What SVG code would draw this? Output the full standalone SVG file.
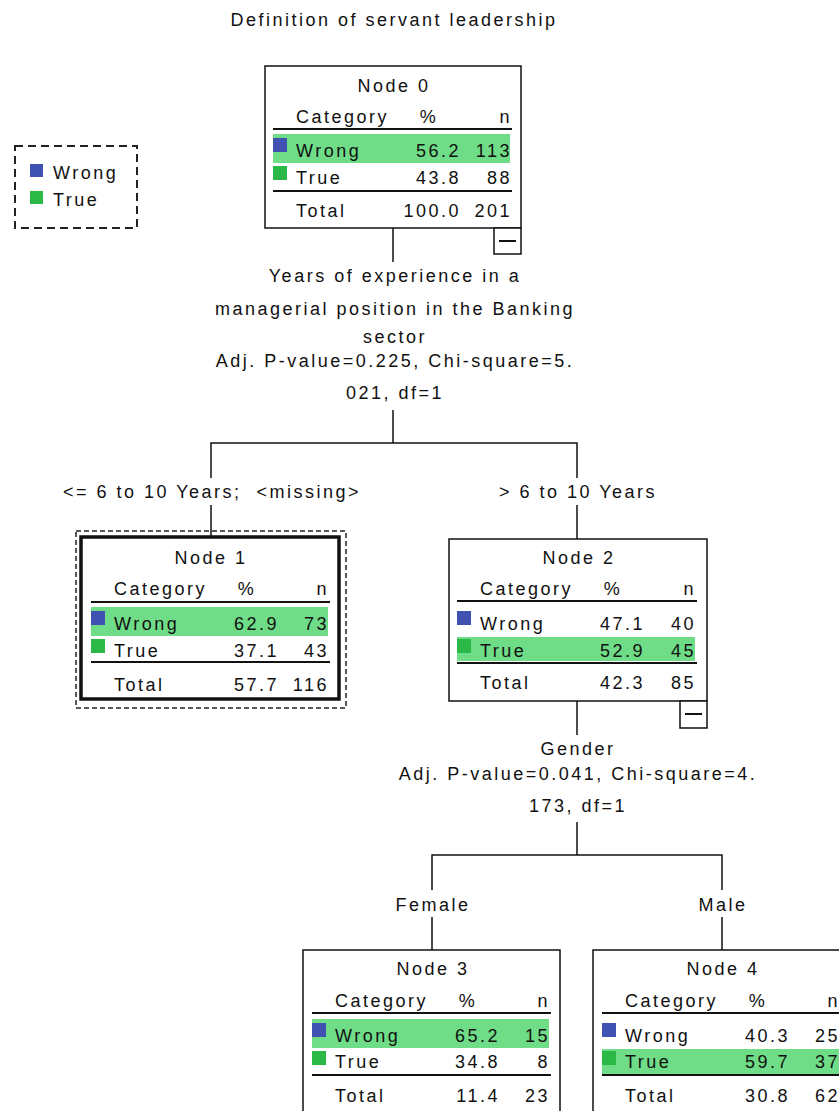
<svg xmlns="http://www.w3.org/2000/svg" width="839" height="1111" viewBox="0 0 839 1111">
<style>
text{font-family:"Liberation Sans",Arial,sans-serif;font-size:18px;letter-spacing:2.5px;fill:#111}
.m{text-anchor:middle}
.e{text-anchor:end}
.box{fill:#fff;stroke:#111;stroke-width:1.5}
.rule{stroke:#111;stroke-width:2}
.hl{fill:#6fdc87}
.bl{fill:#3f52b1}
.gr{fill:#2cb847}
.conn{fill:none;stroke:#111;stroke-width:1.5}
.dash{fill:none;stroke:#222;stroke-width:2;stroke-dasharray:8 5}
.dash2{fill:none;stroke:#222;stroke-width:1.5;stroke-dasharray:5 3}
</style>
<text id="title" class="m" x="394" y="26">Definition of servant leadership</text>
<g id="legend">
<rect class="dash" x="15" y="146" width="122" height="82"/>
<rect class="bl" x="30" y="164" width="13" height="13"/>
<text x="53" y="179">Wrong</text>
<rect class="gr" x="30" y="191" width="13" height="13"/>
<text x="53" y="206">True</text>
</g>
<g id="connectors">
<path class="conn" d="M393,228V262M393,410V443M211,478V443H577V478M211,505V537M577,505V539M577,701V735M577,822V855M432,890V855H722V890M432,917V950M722,917V950"/>
<text class="m" x="395" y="282">Years of experience in a</text>
<text class="m" x="395" y="315">managerial position in the Banking</text>
<text class="m" x="395" y="343">sector</text>
<text class="m" x="395" y="367">Adj. P-value=0.225, Chi-square=5.</text>
<text class="m" x="395" y="399">021, df=1</text>
<text class="m" x="212" y="498">&lt;= 6 to 10 Years;&#160; &lt;missing&gt;</text>
<text class="m" x="578" y="498">&gt; 6 to 10 Years</text>
<text class="m" x="578" y="755">Gender</text>
<text class="m" x="578" y="780">Adj. P-value=0.041, Chi-square=4.</text>
<text class="m" x="578" y="812">173, df=1</text>
<text class="m" x="433" y="911">Female</text>
<text class="m" x="723" y="911">Male</text>
</g>
<g id="node0" transform="translate(265,66)">
<rect class="box" x="0" y="0" width="256" height="162"/>
<text class="m" x="129" y="26">Node 0</text>
<text x="31" y="57">Category</text><text class="m" x="164" y="57">%</text><text class="e" x="247" y="57">n</text>
<line class="rule" x1="8" y1="63" x2="247" y2="63"/>
<rect class="hl" x="8" y="68" width="237" height="29"/>
<rect class="bl" x="8" y="72" width="14" height="14"/>
<text x="31" y="91">Wrong</text><text class="e" x="196" y="91">56.2</text><text class="e" x="247" y="91">113</text>
<rect class="gr" x="8" y="100" width="14" height="14"/>
<text x="31" y="118">True</text><text class="e" x="196" y="118">43.8</text><text class="e" x="247" y="118">88</text>
<line class="rule" x1="8" y1="125" x2="247" y2="125"/>
<text x="31" y="151">Total</text><text class="e" x="196" y="151">100.0</text><text class="e" x="247" y="151">201</text>
<rect class="box" x="229" y="162" width="27" height="26"/>
<line class="rule" x1="234" y1="175" x2="251" y2="175"/>
</g>
<g id="node1" transform="translate(81,538)">
<rect class="dash2" x="-5" y="-7" width="270" height="177"/>
<rect x="0" y="-1" width="258" height="162" fill="#fff" stroke="#111" stroke-width="3.5"/>
<text class="m" x="130" y="26">Node 1</text>
<text x="33" y="57">Category</text><text class="m" x="166" y="57">%</text><text class="e" x="248" y="57">n</text>
<line class="rule" x1="10" y1="64" x2="249" y2="64"/>
<rect class="hl" x="10" y="69" width="237" height="29"/>
<rect class="bl" x="10" y="73" width="14" height="14"/>
<text x="33" y="92">Wrong</text><text class="e" x="198" y="92">62.9</text><text class="e" x="248" y="92">73</text>
<rect class="gr" x="10" y="101" width="14" height="14"/>
<text x="33" y="119">True</text><text class="e" x="198" y="119">37.1</text><text class="e" x="248" y="119">43</text>
<line class="rule" x1="10" y1="124" x2="249" y2="124"/>
<text x="33" y="153">Total</text><text class="e" x="198" y="153">57.7</text><text class="e" x="248" y="153">116</text>
</g>
<g id="node2" transform="translate(449,539)">
<rect class="box" x="0" y="0" width="258" height="162"/>
<text class="m" x="130" y="25">Node 2</text>
<text x="31" y="56">Category</text><text class="m" x="164" y="56">%</text><text class="e" x="247" y="56">n</text>
<line class="rule" x1="8" y1="62" x2="248" y2="62"/>
<rect class="bl" x="8" y="72" width="14" height="14"/>
<text x="31" y="91">Wrong</text><text class="e" x="196" y="91">47.1</text><text class="e" x="247" y="91">40</text>
<rect class="hl" x="8" y="98" width="238" height="24"/>
<rect class="gr" x="8" y="100" width="14" height="14"/>
<text x="31" y="118">True</text><text class="e" x="196" y="118">52.9</text><text class="e" x="247" y="118">45</text>
<line class="rule" x1="8" y1="124" x2="248" y2="124"/>
<text x="31" y="150">Total</text><text class="e" x="196" y="150">42.3</text><text class="e" x="247" y="150">85</text>
<rect class="box" x="231" y="162" width="27" height="27"/>
<line class="rule" x1="236" y1="175" x2="253" y2="175"/>
</g>
<g id="node3" transform="translate(303,950)">
<rect class="box" x="0" y="0" width="257" height="170"/>
<text class="m" x="130" y="25">Node 3</text>
<text x="32" y="57">Category</text><text class="m" x="165" y="57">%</text><text class="e" x="247" y="57">n</text>
<line class="rule" x1="9" y1="63" x2="248" y2="63"/>
<rect class="hl" x="9" y="69" width="237" height="29"/>
<rect class="bl" x="9" y="73" width="14" height="14"/>
<text x="32" y="92">Wrong</text><text class="e" x="197" y="92">65.2</text><text class="e" x="247" y="92">15</text>
<rect class="gr" x="9" y="101" width="14" height="14"/>
<text x="32" y="118">True</text><text class="e" x="197" y="118">34.8</text><text class="e" x="247" y="118">8</text>
<line class="rule" x1="9" y1="125" x2="248" y2="125"/>
<text x="32" y="152">Total</text><text class="e" x="197" y="152">11.4</text><text class="e" x="247" y="152">23</text>
</g>
<g id="node4" transform="translate(593,950)">
<rect class="box" x="0" y="0" width="257" height="170"/>
<text class="m" x="130" y="25">Node 4</text>
<text x="32" y="57">Category</text><text class="m" x="165" y="57">%</text><text class="e" x="247" y="57">n</text>
<line class="rule" x1="9" y1="63" x2="248" y2="63"/>
<rect class="bl" x="9" y="73" width="14" height="14"/>
<text x="32" y="92">Wrong</text><text class="e" x="197" y="92">40.3</text><text class="e" x="247" y="92">25</text>
<rect class="hl" x="9" y="99" width="237" height="25"/>
<rect class="gr" x="9" y="101" width="14" height="14"/>
<text x="32" y="118">True</text><text class="e" x="197" y="118">59.7</text><text class="e" x="247" y="118">37</text>
<line class="rule" x1="9" y1="125" x2="248" y2="125"/>
<text x="32" y="152">Total</text><text class="e" x="197" y="152">30.8</text><text class="e" x="247" y="152">62</text>
</g>
</svg>
